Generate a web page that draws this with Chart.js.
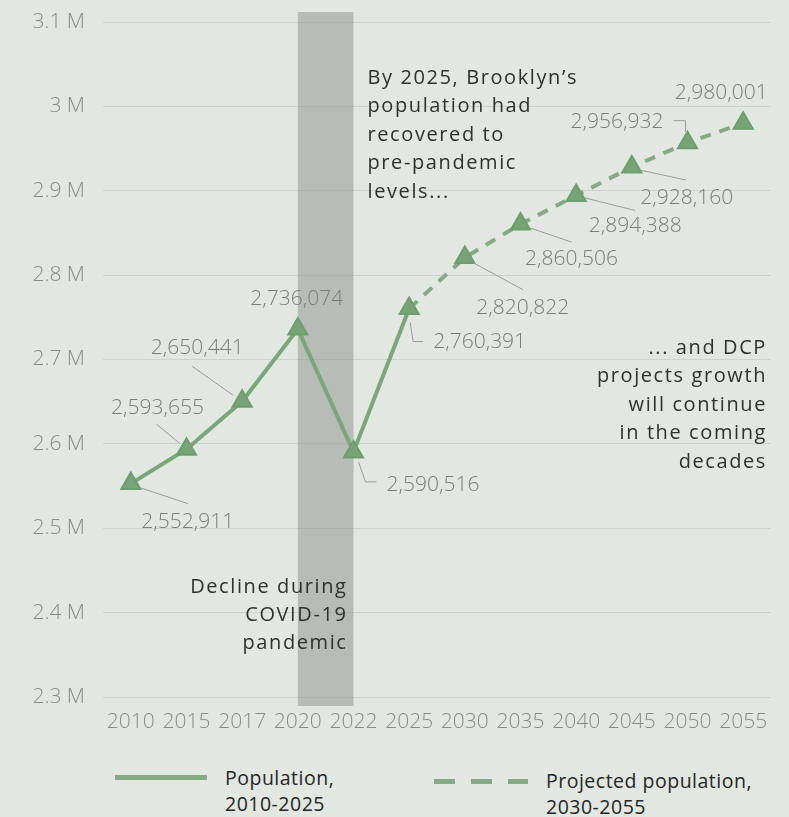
<!DOCTYPE html>
<html>
<head>
<meta charset="utf-8">
<script src="https://cdn.jsdelivr.net/npm/chart.js@4"></script>
<style>
  body { margin: 0; background: #e2e8e1; }
  #wrap { position: relative; width: 789px; height: 817px; overflow: hidden; }
  #chartBox { position: absolute; left: 0; top: 0; width: 789px; height: 745px; }
  .legend-item { position: absolute; font-family: 'Open Sans', sans-serif; font-size: 19.5px; letter-spacing: 0.5px; color: #262626; line-height: 26px; }
  .swatch { position: absolute; height: 5px; }
</style>
</head>
<body>
<div id="wrap">
  <div id="chartBox"><canvas id="chart"></canvas></div>
  <!-- legend -->
  <div class="swatch" style="left:115px; top:775px; width:92px; background:#86a986;"></div>
  <div class="legend-item" style="left:225px; top:765px;">Population,<br>2010-2025</div>
  <div class="swatch" style="left:434px; top:779px; width:94px; background:repeating-linear-gradient(to right, #88a988 0 21px, transparent 21px 37px);"></div>
  <div class="legend-item" style="left:546px; top:768px;">Projected population,<br>2030-2055</div>
</div>
<script>
// Brooklyn population, actual and DCP projection
const years = ['2010', '2015', '2017', '2020', '2022', '2025', '2030', '2035', '2040', '2045', '2050', '2055'];
const population = [2552911, 2593655, 2650441, 2736074, 2590516, 2760391, null, null, null, null, null, null];
const projected = [null, null, null, null, null, 2760391, 2820822, 2860506, 2894388, 2928160, 2956932, 2980001];

const covidStart = '2020';
const covidEnd = '2022';

const noteRecovery = ['By 2025, Brooklyn\u2019s', 'population had', 'recovered to', 'pre-pandemic', 'levels...'];
const noteGrowth = ['... and DCP', 'projects growth', 'will continue', 'in the coming', 'decades'];
const noteCovid = ['Decline during', 'COVID-19', 'pandemic'];

// where each value label sits relative to its point: text offset, alignment, leader path
const labelSpots = [
  { dx: 57, dy: 38, align: 'center', leader: [[9, 4], [57, 20]] },
  { dx: -29, dy: -41, align: 'center', leader: [[-30, -25], [-7, -6]] },
  { dx: -45, dy: -53, align: 'center', leader: [[-50, -35], [-9, -6]] },
  { dx: -1, dy: -30, align: 'center', leader: null },
  { dx: 33, dy: 33, align: 'left', leader: [[5, 10], [12, 30], [23, 30]] },
  { dx: 24, dy: 33, align: 'left', leader: [[1, 14], [4, 33], [14, 33]] },
  { dx: 58, dy: 50, align: 'center', leader: [[8, 5], [58, 32]] },
  { dx: 51, dy: 35, align: 'center', leader: [[10, 4], [51, 18]] },
  { dx: 59, dy: 31, align: 'center', leader: [[7, 2], [59, 15]] },
  { dx: 55, dy: 31, align: 'center', leader: [[8, 3], [54, 13]] },
  { dx: -24, dy: -21, align: 'right', leader: [[-2, -11], [-2, -22], [-14, -22]] },
  { dx: -22, dy: -30, align: 'center', leader: null }
];

const tickFont = { family: 'Open Sans', size: 21, weight: '300' };

// grey band behind the covid years
const covidBand = {
  id: 'covidBand',
  beforeDatasetsDraw(chart) {
    const { ctx, chartArea, scales } = chart;
    const x0 = scales.x.getPixelForValue(years.indexOf(covidStart));
    const x1 = scales.x.getPixelForValue(years.indexOf(covidEnd));
    ctx.save();
    ctx.fillStyle = 'rgba(140,145,140,0.5)';
    ctx.fillRect(x0, chartArea.top - 10, x1 - x0, chartArea.bottom - chartArea.top + 19);
    ctx.restore();
  }
};

// value labels with thin leader lines
const valueLabels = {
  id: 'valueLabels',
  afterDatasetsDraw(chart) {
    const ctx = chart.ctx;
    ctx.save();
    chart.data.datasets.forEach((ds, di) => {
      const meta = chart.getDatasetMeta(di);
      meta.data.forEach((pt, i) => {
        const v = ds.data[i];
        if (v == null) return;
        if (di === 1 && population[i] != null) return;
        const spot = labelSpots[i];
        if (spot.leader) {
          ctx.strokeStyle = '#9a9a9a';
          ctx.lineWidth = 1;
          ctx.beginPath();
          spot.leader.forEach((p, k) => {
            if (k === 0) ctx.moveTo(pt.x + p[0], pt.y + p[1]);
            else ctx.lineTo(pt.x + p[0], pt.y + p[1]);
          });
          ctx.stroke();
        }
        ctx.font = '300 21px "Open Sans"';
        ctx.fillStyle = '#7c7c7c';
        ctx.textAlign = spot.align;
        ctx.textBaseline = 'middle';
        ctx.fillText(v.toLocaleString('en-US'), pt.x + spot.dx, pt.y + spot.dy);
      });
    });
    ctx.restore();
  }
};

// text notes over the plot
const notes = {
  id: 'notes',
  afterDraw(chart) {
    const { ctx, chartArea, scales } = chart;
    const lh = 28.5;
    ctx.save();
    ctx.font = '20px "Open Sans"';
    ctx.letterSpacing = '1.6px';
    ctx.fillStyle = '#303030';
    ctx.textBaseline = 'middle';

    ctx.textAlign = 'left';
    let x = scales.x.getPixelForValue(4) + 14;
    noteRecovery.forEach((t, i) => ctx.fillText(t, x, chartArea.top + 56 + i * lh));

    ctx.textAlign = 'right';
    x = chartArea.right - 4;
    noteGrowth.forEach((t, i) => ctx.fillText(t, x, chartArea.top + 326 + i * lh));

    x = scales.x.getPixelForValue(years.indexOf(covidEnd)) - 6;
    noteCovid.forEach((t, i) => ctx.fillText(t, x, chartArea.top + 565 + i * 28));
    ctx.restore();
  }
};

new Chart(document.getElementById('chart'), {
  type: 'line',
  data: {
    labels: years,
    datasets: [{
      label: 'Population, 2010-2025',
      data: population,
      borderColor: '#7aa67a',
      borderWidth: 4,
      pointStyle: 'triangle',
      pointRadius: 11,
      pointBackgroundColor: '#76a476',
      pointBorderColor: '#6e9d6e',
      pointBorderWidth: 2,
      tension: 0,
      spanGaps: false
    }, {
      label: 'Projected population, 2030-2055',
      data: projected,
      borderColor: '#88a988',
      borderWidth: 4,
      borderDash: [11, 9],
      pointStyle: 'triangle',
      pointRadius: ctx => population[ctx.dataIndex] != null ? 0 : 11,
      pointBackgroundColor: '#76a476',
      pointBorderColor: '#6e9d6e',
      pointBorderWidth: 2,
      tension: 0
    }]
  },
  options: {
    responsive: true,
    maintainAspectRatio: false,
    animation: false,
    layout: { padding: { top: 22, right: 18, left: 0, bottom: 0 } },
    plugins: {
      legend: { display: false },
      tooltip: { enabled: false }
    },
    scales: {
      x: {
        offset: true,
        grid: { display: false, drawTicks: false },
        border: { display: false },
        ticks: { font: tickFont, color: '#8a8a8a', padding: 12, maxRotation: 0, autoSkip: false },
        afterFit(scale) { scale.height = 48; }
      },
      y: {
        min: 2300000,
        max: 3100000,
        grid: { color: '#cdd3cc', lineWidth: 1, drawTicks: false },
        border: { display: false },
        ticks: {
          stepSize: 100000,
          font: tickFont,
          color: '#8a8a8a',
          padding: 18,
          callback: v => parseFloat((v / 1e6).toFixed(1)) + ' M'
        },
        afterFit(scale) {
          // tick padding would otherwise push the plot top down
          scale.width = 103;
          scale.paddingTop = 0;
          scale.paddingBottom = 0;
        }
      }
    }
  },
  plugins: [covidBand, valueLabels, notes]
});
</script>
</body>
</html>
